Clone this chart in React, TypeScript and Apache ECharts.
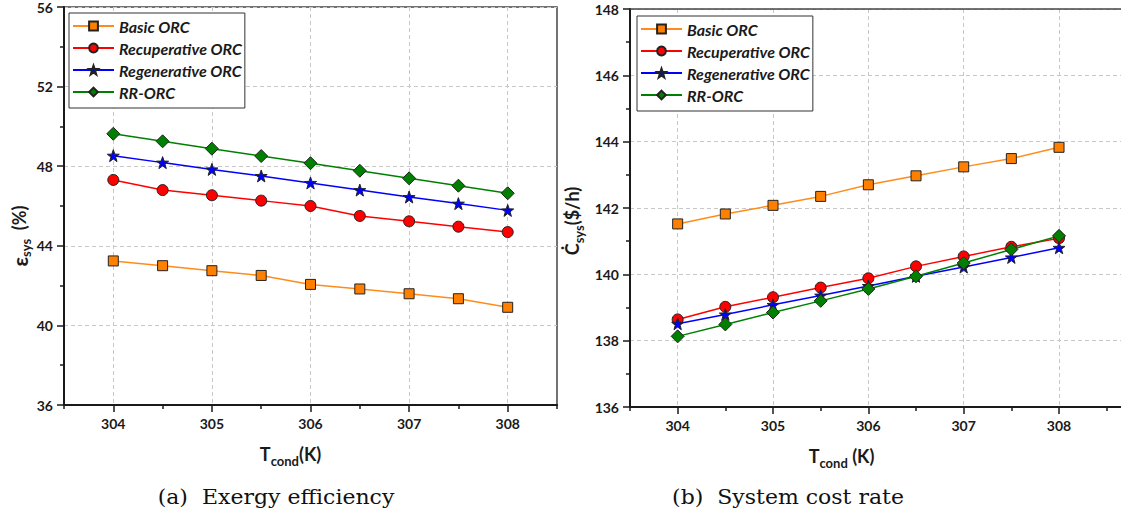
import React, { useEffect, useRef } from "react";
import * as echarts from "echarts";

const T_COND = [304, 304.5, 305, 305.5, 306, 306.5, 307, 307.5, 308];
const X_MAJOR = [304, 305, 306, 307, 308];
const X_MINOR = [303.5, 304.5, 305.5, 306.5, 307.5, 308.5];
const SERIES_NAMES = ["Basic ORC", "Recuperative ORC", "Regenerative ORC", "RR-ORC"];

// (a) Exergy efficiency (%)
const EFF_BASIC = [43.24, 43.0, 42.75, 42.51, 42.06, 41.83, 41.59, 41.34, 40.91];
const EFF_RECUP = [47.31, 46.8, 46.54, 46.27, 46.0, 45.5, 45.23, 44.96, 44.69];
const EFF_REGEN = [48.53, 48.18, 47.84, 47.51, 47.16, 46.8, 46.45, 46.12, 45.78];
const EFF_RR = [49.63, 49.25, 48.88, 48.51, 48.15, 47.77, 47.39, 47.02, 46.64];

// (b) System cost rate ($/h)
const COST_BASIC = [141.52, 141.82, 142.08, 142.35, 142.7, 142.97, 143.24, 143.49, 143.83];
const COST_RECUP = [138.64, 139.02, 139.31, 139.6, 139.88, 140.24, 140.54, 140.83, 141.09];
const COST_REGEN = [138.51, 138.79, 139.08, 139.36, 139.65, 139.94, 140.22, 140.51, 140.8];
const COST_RR = [138.13, 138.49, 138.85, 139.2, 139.56, 139.94, 140.34, 140.75, 141.16];

const STAR =
  "path://M0,-10 L2.35,-3.24 L9.51,-3.09 L3.8,1.24 L5.88,8.09 L0,4 L-5.88,8.09 L-3.8,1.24 L-9.51,-3.09 L-2.35,-3.24 Z";

const STYLES = [
  { line: "#FF8C1A", fill: "#FF8000", symbol: "rect", size: 10 },
  { line: "#FF0000", fill: "#FF0000", symbol: "circle", size: 11 },
  { line: "#0000FF", fill: "#0000FF", symbol: STAR, size: 12 },
  { line: "#008000", fill: "#008000", symbol: "diamond", size: 13 },
];

const FONT = "Lato";
const DARK = "#1a1a1a";

function makeSeries(values: number[][], xIdx: number, yIdx: number) {
  return values.map((vals, i) => ({
    name: SERIES_NAMES[i],
    type: "line",
    xAxisIndex: xIdx,
    yAxisIndex: yIdx,
    data: T_COND.map((t, j) => [t, vals[j]]),
    symbol: STYLES[i].symbol,
    symbolSize: STYLES[i].size,
    showSymbol: true,
    lineStyle: { color: STYLES[i].line, width: 1.5 },
    itemStyle: { color: STYLES[i].fill, borderColor: "#222", borderWidth: 1 },
    z: 3 + i,
  }));
}

const nameRich = {
  t: { fontFamily: FONT, fontWeight: "bold", fontSize: 18, color: DARK, lineHeight: 26 },
  s: { fontFamily: FONT, fontWeight: "bold", fontSize: 13, color: DARK, verticalAlign: "bottom" },
};

function mainX(grid: number, min: number, max: number, name: string, padRight: number) {
  return {
    type: "value",
    gridIndex: grid,
    min,
    max,
    interval: 0.5,
    position: "bottom",
    name,
    nameLocation: "middle",
    nameGap: 36,
    nameTextStyle: { rich: nameRich, padding: [0, padRight, 0, 0] },
    axisLine: { show: true, onZero: false, lineStyle: { color: DARK, width: 2 } },
    axisTick: { show: true, length: 7, customValues: X_MAJOR, lineStyle: { color: DARK, width: 1.5 } },
    axisLabel: {
      customValues: X_MAJOR,
      fontFamily: FONT,
      fontWeight: "bold",
      fontSize: 14,
      color: DARK,
      margin: 11,
    },
    splitLine: { show: true, lineStyle: { type: [4, 3], color: "#c8c8c8", width: 1 } },
  };
}

function minorX(grid: number, min: number, max: number) {
  return {
    type: "value",
    gridIndex: grid,
    min,
    max,
    interval: 0.5,
    position: "bottom",
    axisLine: { show: false },
    axisTick: { show: true, length: 4, customValues: X_MINOR, lineStyle: { color: DARK, width: 1.5 } },
    axisLabel: { show: false },
    splitLine: { show: false },
  };
}

function topX(grid: number, min: number, max: number) {
  return {
    type: "value",
    gridIndex: grid,
    min,
    max,
    interval: 0.5,
    position: "top",
    axisLine: { show: true, onZero: false, lineStyle: { color: "#444", width: 1.5 } },
    axisTick: { show: false },
    axisLabel: { show: false },
    splitLine: { show: false },
  };
}

function mainY(grid: number, min: number, max: number, interval: number) {
  return {
    type: "value",
    gridIndex: grid,
    min,
    max,
    interval,
    axisLine: { show: true, onZero: false, lineStyle: { color: DARK, width: 2 } },
    axisTick: { show: true, length: 7, lineStyle: { color: DARK, width: 1.5 } },
    minorTick: { show: true, splitNumber: 2, length: 4, lineStyle: { color: DARK, width: 1.5 } },
    axisLabel: { fontFamily: FONT, fontWeight: "bold", fontSize: 14, color: DARK, margin: 11 },
    splitLine: { show: true, lineStyle: { type: [4, 3], color: "#c8c8c8", width: 1 } },
  };
}

function legend(left: number, top: number) {
  return {
    show: true,
    orient: "vertical",
    left,
    top,
    data: SERIES_NAMES,
    selectedMode: false,
    backgroundColor: "#fff",
    borderColor: "#333",
    borderWidth: 1,
    padding: [5, 3, 8, 3],
    itemWidth: 41,
    itemHeight: 11,
    itemGap: 6,
    textStyle: {
      fontFamily: FONT,
      fontWeight: "bold",
      fontStyle: "italic",
      fontSize: 16,
      color: DARK,
      lineHeight: 14,
    },
  };
}

const yRich = {
  e: { fontFamily: FONT, fontWeight: "bold", fontSize: 21, fill: DARK, lineHeight: 26 },
  t: { fontFamily: FONT, fontWeight: "bold", fontSize: 18, fill: DARK, lineHeight: 26 },
  s: { fontFamily: FONT, fontWeight: "bold", fontSize: 13, fill: DARK, verticalAlign: "bottom" },
};

const captionStyle = {
  fontFamily: "DejaVu Serif",
  fontSize: 20,
  fill: "#111",
  align: "center",
  verticalAlign: "middle",
};

export default function App() {
  const ref = useRef<HTMLDivElement>(null);
  useEffect(() => {
    if (!ref.current) return;
    const chart = echarts.init(ref.current, null, { renderer: "svg" });
    chart.setOption({
      animation: false,
      backgroundColor: "#fff",
      grid: [
        { left: 64, top: 7, right: 564, bottom: 116, show: true, borderColor: "#444", borderWidth: 1.5 },
        { left: 630, top: 9, right: 0, bottom: 114, show: false },
      ],
      xAxis: [
        mainX(0, 303.5, 308.5, "{t|T}{s|cond}{t|(K)}", 40),
        minorX(0, 303.5, 308.5),
        mainX(1, 303.5, 308.65, "{t|T}{s|cond}{t| (K)}", 68),
        minorX(1, 303.5, 308.65),
        topX(1, 303.5, 308.65),
      ],
      yAxis: [mainY(0, 36, 56, 4), mainY(1, 136, 148, 2)],
      legend: [legend(69, 13), legend(637, 16)],
      series: [
        ...makeSeries([EFF_BASIC, EFF_RECUP, EFF_REGEN, EFF_RR], 0, 0),
        ...makeSeries([COST_BASIC, COST_RECUP, COST_REGEN, COST_RR], 2, 1),
      ],
      graphic: [
        {
          type: "text",
          x: 19,
          y: 236,
          rotation: Math.PI / 2,
          style: { text: "{e|ε}{s|sys}{t|  (%)}", rich: yRich, align: "center", verticalAlign: "middle" },
        },
        {
          type: "text",
          x: 572,
          y: 221,
          rotation: Math.PI / 2,
          style: { text: "{t|Ċ}{s|sys}{t|($/h)}", rich: yRich, align: "center", verticalAlign: "middle" },
        },
        {
          type: "text",
          x: 276,
          y: 497,
          scaleX: 1.1,
          style: { ...captionStyle, text: "(a)  Exergy efficiency" },
        },
        {
          type: "text",
          x: 788,
          y: 497,
          scaleX: 1.1,
          style: { ...captionStyle, text: "(b)  System cost rate" },
        },
      ],
    });
    return () => chart.dispose();
  }, []);
  return (
    <div
      ref={ref}
      style={{ position: "fixed", left: 0, top: 0, width: 1121, height: 521, background: "#fff" }}
    />
  );
}
